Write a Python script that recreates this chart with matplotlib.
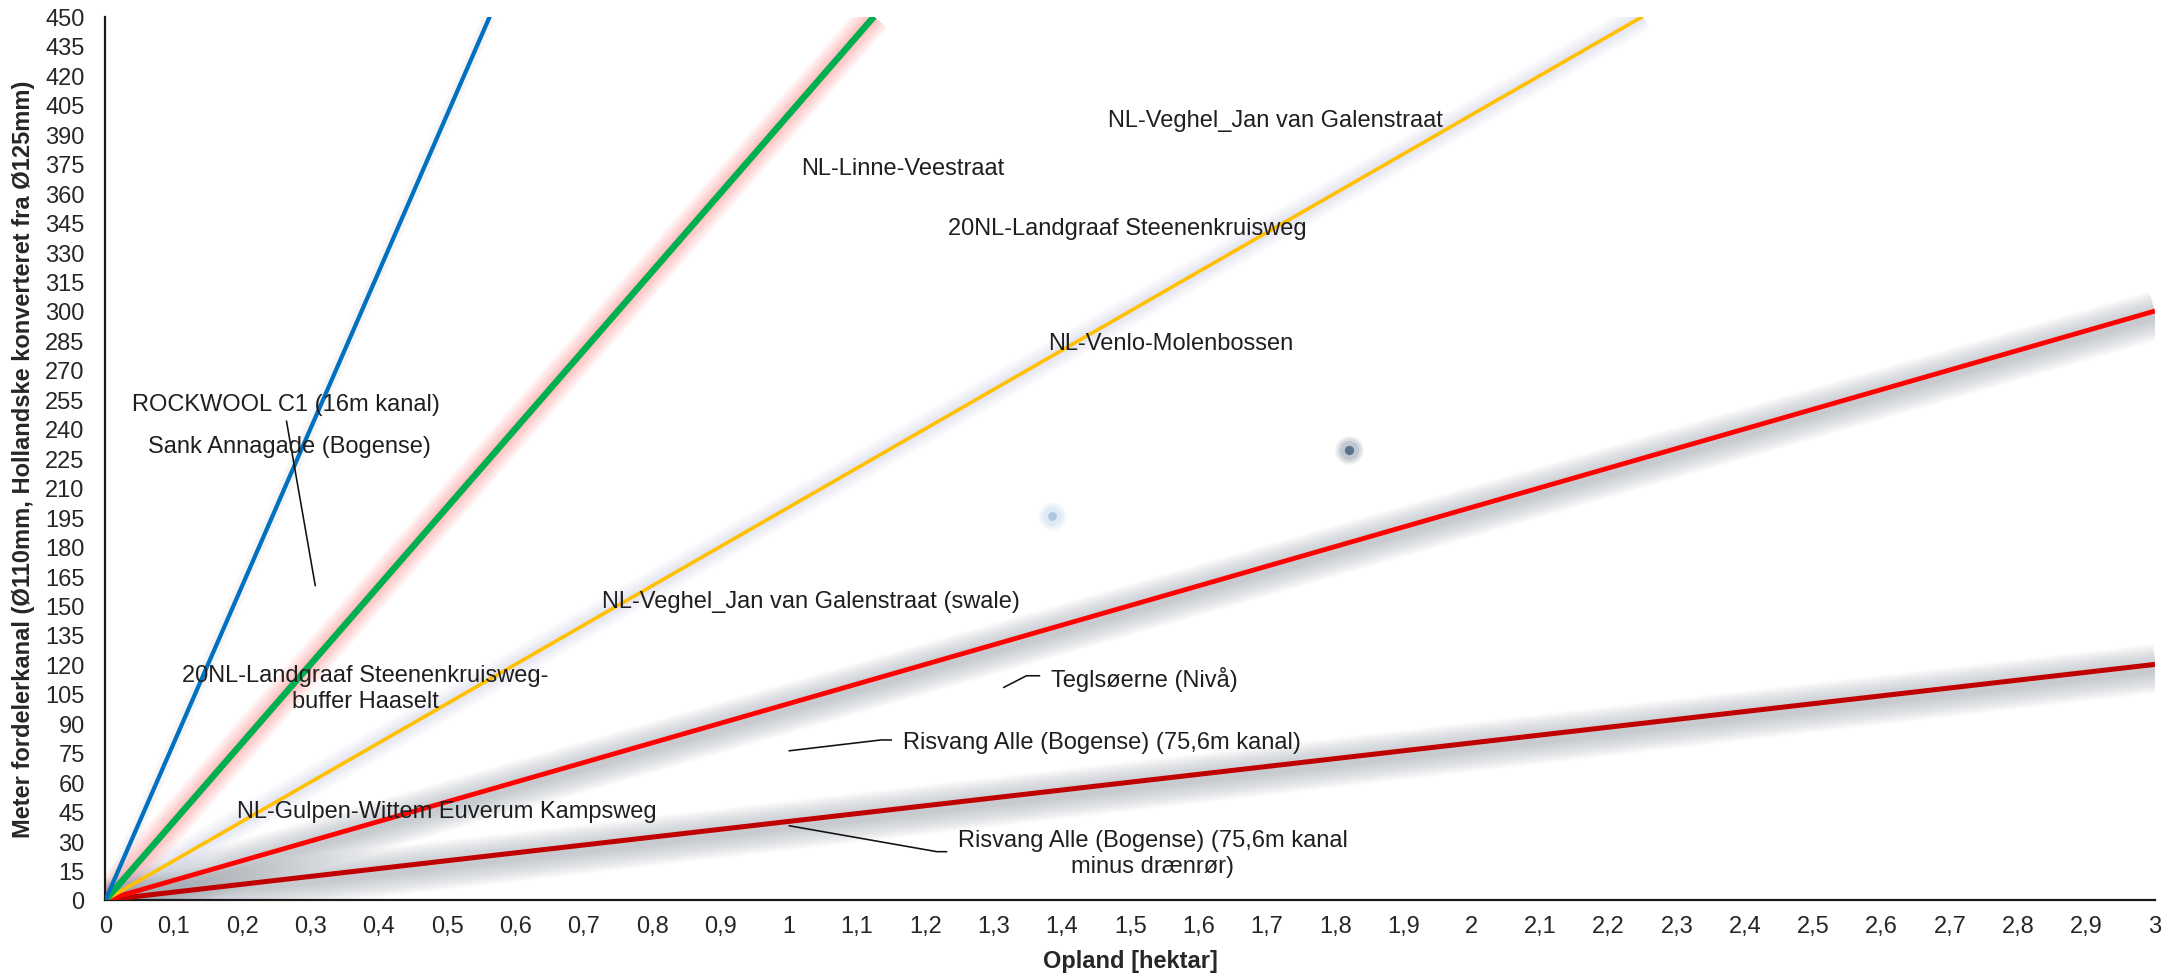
import matplotlib
matplotlib.use('Agg')
import matplotlib.pyplot as plt
import matplotlib.transforms as mtransforms
import numpy as np

plt.rcParams['font.family'] = ['Liberation Sans', 'DejaVu Sans']

# Lines (start, end point)
blue_x = [0, 0.5625]
blue_y = [0, 450]
green_x = [0, 1.125]
green_y = [0, 450]
yellow_x = [0, 2.25]
yellow_y = [0, 450]
red_x = [0, 3]
red_y = [0, 300]
darkred_x = [0, 3]
darkred_y = [0, 120]

# Two loose points
dot_x = [1.385, 1.82]
dot_y = [195.4, 229.3]

# Annotations
labels = [
    'ROCKWOOL C1 (16m kanal)',
    'Sank Annagade (Bogense)',
    'NL-Linne-Veestraat',
    'NL-Veghel_Jan van Galenstraat',
    '20NL-Landgraaf Steenenkruisweg',
    'NL-Venlo-Molenbossen',
    'NL-Veghel_Jan van Galenstraat (swale)',
    '20NL-Landgraaf Steenenkruisweg-\nbuffer Haaselt',
    'NL-Gulpen-Wittem Euverum Kampsweg',
    'Teglsøerne (Nivå)',
    'Risvang Alle (Bogense) (75,6m kanal)',
    'Risvang Alle (Bogense) (75,6m kanal\nminus drænrør)',
]
label_x = [0.264, 0.269, 1.167, 1.712, 1.496, 1.559, 1.033, 0.380, 0.500, 1.520, 1.458, 1.533]
label_y = [252.6, 231.4, 372.7, 397.5, 342.1, 283.7, 152.4, 108.0, 45.5, 112.9, 80.3, 23.9]

# Leader lines
leaders = [
    ([0.265, 0.307], [243.8, 160.2]),
    ([1.315, 1.348, 1.367], [108.3, 114.2, 114.2]),
    ([1.001, 1.135, 1.150], [76.0, 81.5, 81.5]),
    ([1.001, 1.217, 1.231], [37.8, 24.6, 24.6]),
]

x_ticks = np.round(np.arange(0, 3.0001, 0.1), 1)
y_ticks = np.arange(0, 451, 15)

PX = 72 / 100  # points per pixel at dpi 100

fig = plt.figure(figsize=(21.72, 9.79), dpi=100)
ax = fig.add_axes([0.04857, 0.0797, 0.99217 - 0.04857, 0.98212 - 0.0797])
ax.set_xlim(0, 3)
ax.set_ylim(0, 450)

down = mtransforms.offset_copy(ax.transData, fig=fig, x=1, y=-4, units='dots')


def glow(x, y, color, w_max, w_min, alpha, trans=None):
    # many thin layers stacked -> soft falloff
    for w in np.arange(w_max, w_min - 0.1, -2.0):
        ax.plot(x, y, color=color, lw=w * PX, alpha=alpha, solid_capstyle='butt',
                transform=trans if trans is not None else ax.transData, zorder=1)


# soft glows / shadows
glow(blue_x, blue_y, '#9a9a9a', 16, 6, 0.02)
glow(green_x, green_y, '#ff2a2a', 36, 8, 0.02)
glow(yellow_x, yellow_y, '#9fb4d2', 30, 8, 0.018)
glow(red_x, red_y, '#76828f', 50, 8, 0.02, down)
glow(darkred_x, darkred_y, '#76828f', 50, 8, 0.02, down)

ax.plot(darkred_x, darkred_y, color='#C00000', lw=5 * PX, zorder=3, solid_capstyle='butt')
ax.plot(red_x, red_y, color='#FF0000', lw=4.8 * PX, zorder=3, solid_capstyle='butt')
ax.plot(yellow_x, yellow_y, color='#FFC000', lw=3.6 * PX, zorder=3, solid_capstyle='butt')
ax.plot(green_x, green_y, color='#00B050', lw=6.5 * PX, zorder=3, solid_capstyle='butt')
ax.plot(blue_x, blue_y, color='#0070C0', lw=4.2 * PX, zorder=3, solid_capstyle='butt')

# dots with glow
for s, a in [(420, 0.15), (300, 0.2), (190, 0.3)]:
    ax.scatter(dot_x[:1], dot_y[:1], s=s, color='#c6d9ee', alpha=a, lw=0, zorder=2)
    ax.scatter(dot_x[1:], dot_y[1:], s=s, color='#8a96a4', alpha=a, lw=0, zorder=2)
ax.scatter(dot_x[:1], dot_y[:1], s=40, color='#aec6df', lw=0, zorder=4)
ax.scatter(dot_x[1:], dot_y[1:], s=45, color='#5a7390', lw=0, zorder=4)

for (lx, ly) in leaders:
    ax.plot(lx, ly, color='#111111', lw=1.6 * PX, zorder=5)

for txt, tx, ty in zip(labels, label_x, label_y):
    ax.text(tx, ty, txt, fontsize=17, color='#1f1f1f', ha='center', va='center',
            multialignment='center', linespacing=1.2, zorder=6)

ax.set_xticks(x_ticks)
ax.set_xticklabels([f'{v:g}'.replace('.', ',') for v in x_ticks])
ax.set_yticks(y_ticks)
ax.set_yticklabels([str(v) for v in y_ticks])
ax.tick_params(axis='both', length=0, labelsize=17, colors='#262626')
ax.tick_params(axis='y', pad=15)
ax.tick_params(axis='x', pad=11)

for side in ['top', 'right']:
    ax.spines[side].set_visible(False)
for side in ['left', 'bottom']:
    ax.spines[side].set_linewidth(2.2 * PX)
    ax.spines[side].set_color('#1a1a1a')

ax.set_xlabel('Opland [hektar]', fontsize=17, fontweight='bold', color='#262626')
ax.set_ylabel('Meter fordelerkanal (Ø110mm, Hollandske konverteret fra Ø125mm)',
              fontsize=17, fontweight='bold', color='#262626')
ax.xaxis.label.set_va('center')
ax.yaxis.label.set_va('center')
ax.xaxis.set_label_coords(0.5, -0.0687)
ax.yaxis.set_label_coords(-0.040, 0.5)

fig.savefig('out.png', dpi=100, facecolor='white')
